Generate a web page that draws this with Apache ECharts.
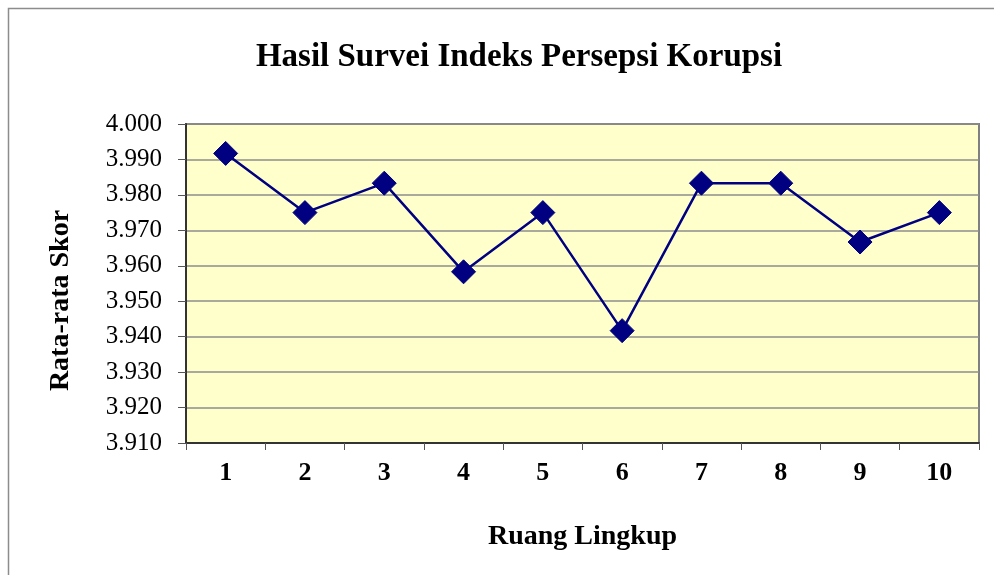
<!DOCTYPE html>
<html>
<head>
<meta charset="utf-8">
<script src="https://cdn.jsdelivr.net/npm/echarts@6/dist/echarts.min.js"></script>
<style>
  html, body { margin: 0; padding: 0; background: #fff; }
  #chart { width: 994px; height: 575px; }
</style>
</head>
<body>
<div id="chart"></div>
<script>
const categories = ["1", "2", "3", "4", "5", "6", "7", "8", "9", "10"];
const scores = [3.9917, 3.975, 3.9833, 3.9583, 3.975, 3.9417, 3.9833, 3.9833, 3.9667, 3.975];
const yMin = 3.91;
const yMax = 4.0;
const yStep = 0.01;

const FONT = "'Liberation Serif', 'DejaVu Serif', serif";

const chart = echarts.init(document.getElementById("chart"));

const options = {
  animation: false,
  backgroundColor: "#fff",
  title: {
    text: "Hasil Survei Indeks Persepsi Korupsi",
    left: 514,
    top: 36,
    textAlign: "center",
    textStyle: { fontFamily: FONT, fontSize: 33, fontWeight: "bold", color: "#000" }
  },
  graphic: [
    {
      type: "rect",
      shape: { x: 8.5, y: 8.5, width: 1100, height: 700 },
      style: { fill: null, stroke: "#8c8c8c", lineWidth: 1.5 },
      silent: true
    }
  ],
  grid: {
    left: 186,
    right: 15,
    top: 124,
    bottom: 132,
    show: true,
    backgroundColor: "#FFFFCC",
    borderColor: "#808080",
    borderWidth: 2
  },
  xAxis: {
    type: "category",
    data: categories,
    boundaryGap: true,
    name: "Ruang Lingkup",
    nameLocation: "middle",
    nameGap: 80,
    nameTextStyle: { fontFamily: FONT, fontSize: 28, fontWeight: "bold", color: "#000" },
    axisLine: { lineStyle: { color: "#333", width: 2 } },
    axisTick: { show: true, length: 7, alignWithLabel: false, lineStyle: { color: "#555", width: 1 } },
    axisLabel: { fontFamily: FONT, fontSize: 26, fontWeight: "bold", color: "#000", margin: 17 },
    splitLine: { show: false }
  },
  yAxis: {
    type: "value",
    min: yMin,
    max: yMax,
    interval: yStep,
    name: "Rata-rata Skor",
    nameLocation: "middle",
    nameGap: 111,
    nameRotate: 90,
    nameTextStyle: {
      fontFamily: FONT, fontSize: 28, fontWeight: "bold", color: "#000",
      padding: [0, 34, 0, 0]
    },
    axisLine: { show: true, lineStyle: { color: "#333", width: 2 } },
    axisTick: { show: true, length: 8, lineStyle: { color: "#555", width: 1 } },
    axisLabel: {
      fontFamily: FONT, fontSize: 25, color: "#000", margin: 24,
      formatter: (v) => v.toFixed(3)
    },
    splitLine: { show: true, lineStyle: { color: "#8c8c8c", width: 1.5 } }
  },
  series: [
    {
      name: "Skor",
      type: "line",
      data: scores,
      symbol: "diamond",
      symbolSize: 24,
      lineStyle: { color: "#000080", width: 2.5 },
      itemStyle: { color: "#000080", borderColor: "#000080" }
    }
  ]
};

chart.setOption(options);
</script>
</body>
</html>
